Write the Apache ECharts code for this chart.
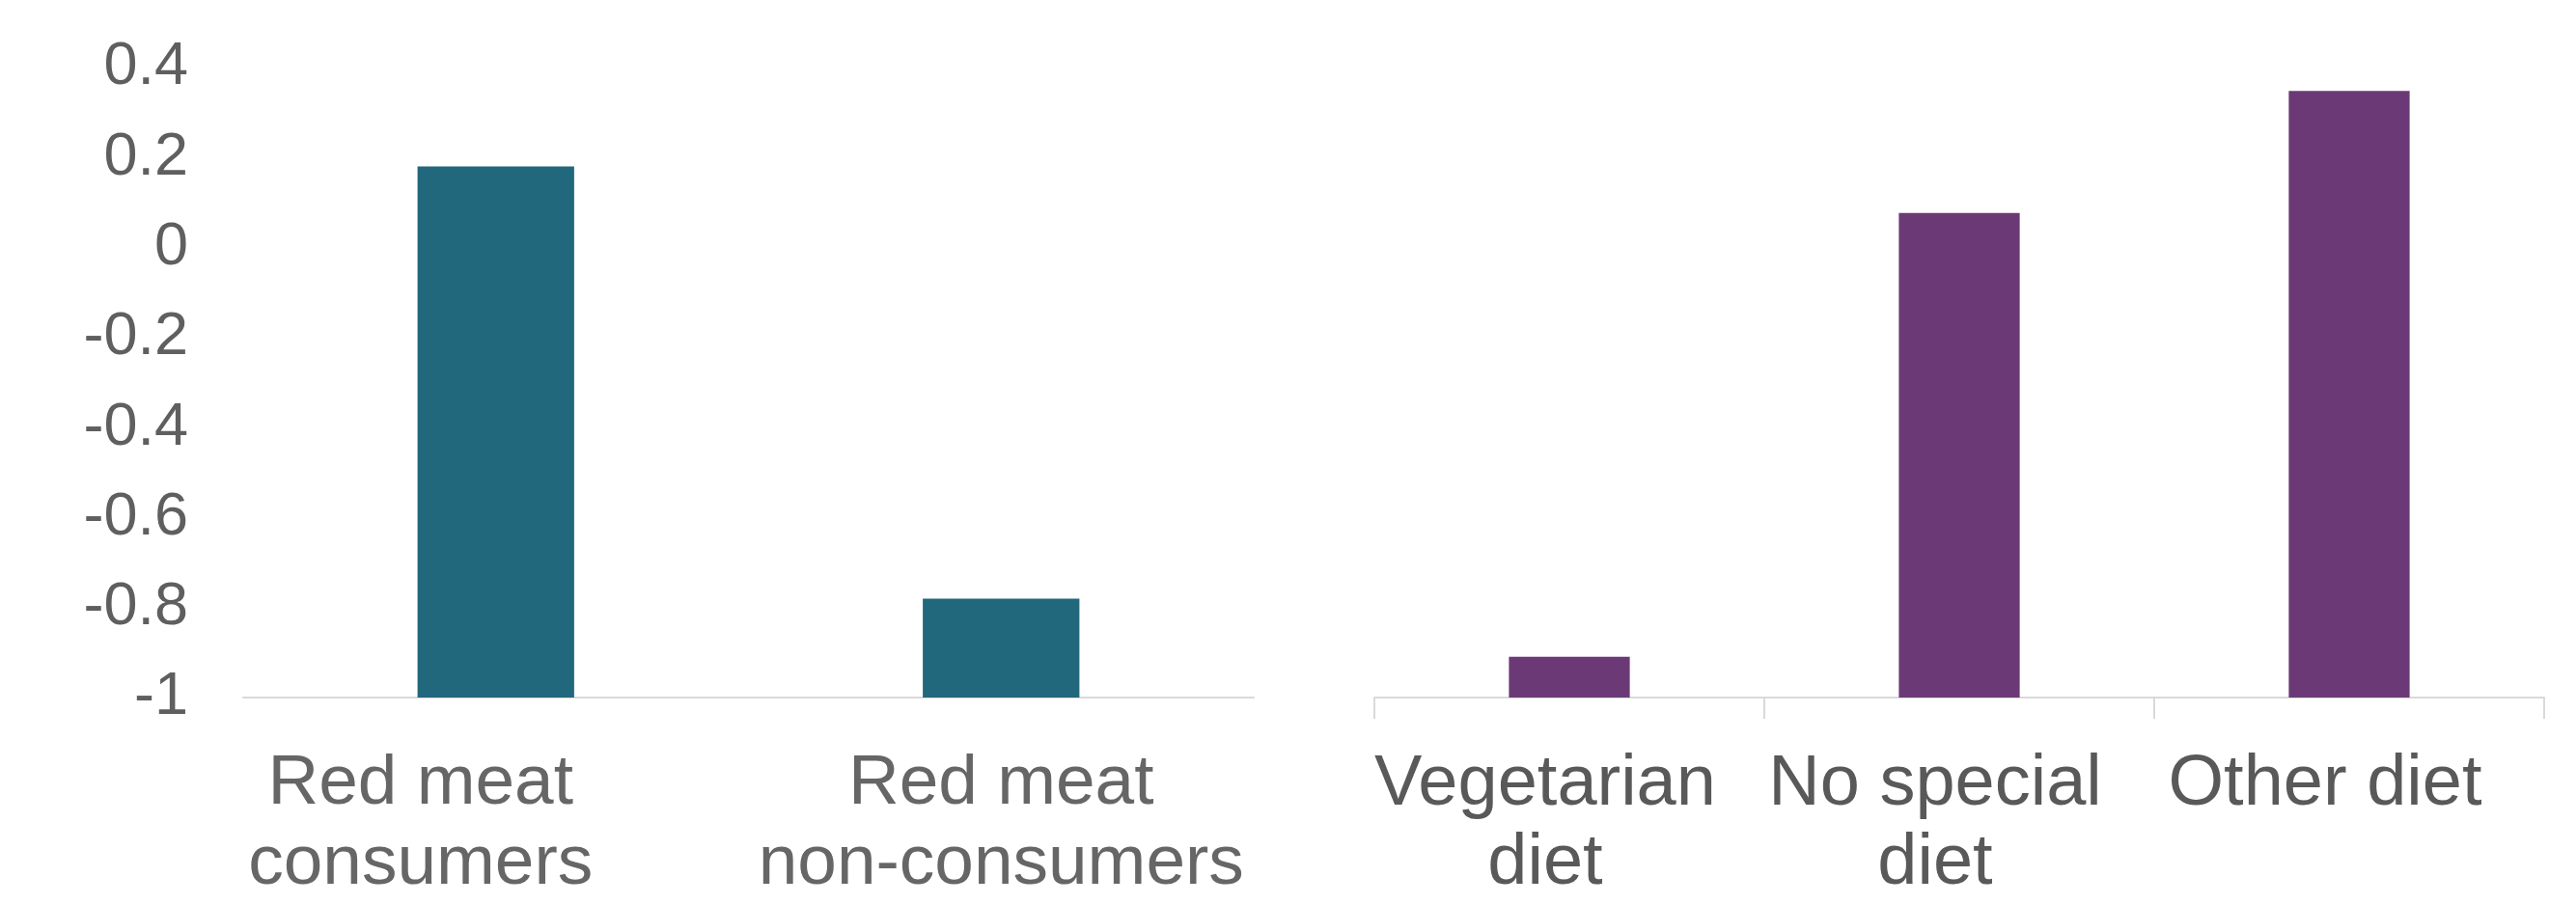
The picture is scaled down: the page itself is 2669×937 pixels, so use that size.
<!DOCTYPE html>
<html>
<head>
<meta charset="utf-8">
<script src="https://cdn.jsdelivr.net/npm/echarts@6/dist/echarts.min.js"></script>
<style>
  html, body { margin: 0; padding: 0; background: #fff; }
  #main { width: 2669px; height: 937px; }
</style>
</head>
<body>
<div id="main"></div>
<script>
// left panel: red meat consumption
var meatCategories = ['Red meat\nconsumers', 'Red meat\nnon-consumers'];
var meatValues = [0.18, -0.78];
// right panel: diet type
var dietCategories = ['Vegetarian\ndiet', 'No special\ndiet', 'Other diet'];
var dietValues = [-0.91, 0.07, 0.34];
// y axis runs from -1 to 0.4, bars grow up from -1
var yMin = -1;
var yMax = 0.4;
var yStep = 0.2;

function fromBase(arr) {
    return arr.map(function (v) { return +(v - yMin).toFixed(4); });
}

var myChart = echarts.init(document.getElementById('main'));
var font = '"Liberation Sans", Arial, sans-serif';

// first left label sits left of its bar in the original
var meatAxisData = meatCategories.map(function (c, i) {
    return i === 0 ? { value: c, textStyle: { padding: [0, 156, 0, 0] } } : c;
});

var option = {
    animation: false,
    grid: [
        { left: 252, top: 70, width: 1047, height: 659 },
        { left: 1424, top: 66, width: 1212, height: 659 }
    ],
    xAxis: [
        {
            type: 'category', gridIndex: 0, data: meatAxisData,
            axisLine: { lineStyle: { color: '#d9d9d9', width: 2 } },
            axisTick: { show: false },
            axisLabel: {
                color: '#666666', fontSize: 73, fontFamily: font,
                lineHeight: 83, margin: 48, interval: 0
            }
        },
        {
            type: 'category', gridIndex: 1, data: dietCategories,
            axisLine: { lineStyle: { color: '#d9d9d9', width: 2 } },
            axisTick: { show: true, length: 22, lineStyle: { color: '#d9d9d9', width: 2 } },
            axisLabel: {
                color: '#595959', fontSize: 74, fontFamily: font,
                lineHeight: 82, margin: 50, interval: 0,
                padding: [0, 50, 0, 0]
            }
        }
    ],
    yAxis: [
        {
            type: 'value', gridIndex: 0, min: 0, max: yMax - yMin, interval: yStep,
            axisLine: { show: false },
            axisTick: { show: false },
            splitLine: { show: false },
            axisLabel: {
                color: '#5f5f5f', fontSize: 63, fontFamily: font, margin: 57,
                formatter: function (v) { return String(+(v + yMin).toFixed(1)); }
            }
        },
        {
            type: 'value', gridIndex: 1, min: 0, max: yMax - yMin, interval: yStep,
            show: false
        }
    ],
    series: [
        {
            type: 'bar', xAxisIndex: 0, yAxisIndex: 0,
            data: fromBase(meatValues), barWidth: '31%',
            itemStyle: { color: '#22687d' }
        },
        {
            type: 'bar', xAxisIndex: 1, yAxisIndex: 1,
            data: fromBase(dietValues), barWidth: '31%',
            itemStyle: { color: '#6b3a76' }
        }
    ]
};
myChart.setOption(option);
</script>
</body>
</html>
